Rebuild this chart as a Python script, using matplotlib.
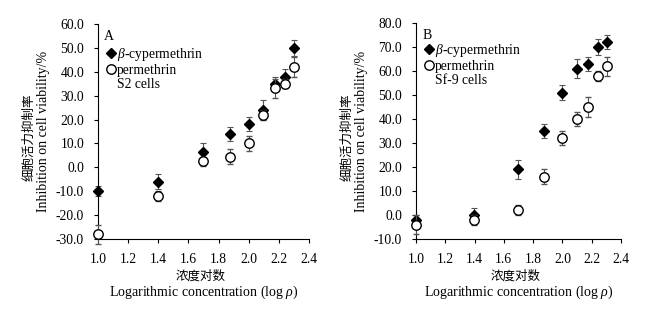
import matplotlib
matplotlib.use("Agg")
import matplotlib.pyplot as plt
import numpy as np

plt.rcParams['font.family'] = ['Liberation Serif', 'Noto Sans CJK SC', 'DejaVu Sans']
plt.rcParams['mathtext.fontset'] = 'custom'
plt.rcParams['mathtext.it'] = 'Liberation Serif:italic'
plt.rcParams['mathtext.rm'] = 'Liberation Serif'

# log10 of concentration
log_conc = [1.0, 1.398, 1.699, 1.875, 2.0, 2.097, 2.176, 2.243, 2.301]

# panel A, S2 cells
s2_beta = [-10, -6, 6.5, 14, 18, 24, 35, 38, 50]
s2_beta_err = [2, 3, 3.5, 3, 3, 4, 3, 3, 3.5]
s2_perm = [-28, -12, 2.5, 4.5, 10, 22, 33, 35, 42]
s2_perm_err = [4, 2, 2, 3, 3, 2, 4, 2, 4]

# panel B, Sf-9 cells
sf9_beta = [-2, 0, 19, 35, 51, 61, 63, 70, 72]
sf9_beta_err = [2, 3, 4, 3, 3, 4, 3, 3.5, 3]
sf9_perm = [-4, -2, 2, 16, 32, 40, 45, 58, 62]
sf9_perm_err = [4, 2, 2, 3, 3, 3, 4, 2, 4]

fig = plt.figure(figsize=(6.72, 3.09), dpi=100)
# axes boxes in figure fractions (pixels / 672, 309)
ax_a = fig.add_axes([98 / 672, (309 - 239) / 309, 211 / 672, 215 / 309])
ax_b = fig.add_axes([416 / 672, (309 - 239) / 309, 205 / 672, 216 / 309])

PX = 0.72  # points per pixel at 100 dpi


def draw_panel(ax, beta, beta_err, perm, perm_err, ylim, letter, cells, leg_y):
    ebar_kw = dict(ecolor='#555555', elinewidth=0.8, capsize=2.5, capthick=0.8, linestyle='none')
    hb = ax.errorbar(log_conc, beta, yerr=beta_err, marker='D', markersize=5.5,
                     color='black', zorder=3, clip_on=False, **ebar_kw)
    hp = ax.errorbar(log_conc, perm, yerr=perm_err, marker='o', markersize=6.8,
                     markerfacecolor='white', markeredgecolor='black',
                     markeredgewidth=1.0, zorder=4, clip_on=False, **ebar_kw)

    ax.set_xlim(1.0, 2.4)
    xt = np.arange(1.0, 2.41, 0.2)
    ax.set_xticks(xt)
    ax.set_xticklabels(['%.1f' % v for v in xt])
    ax.set_ylim(ylim)
    yt = np.arange(ylim[0], ylim[1] + 1, 10)
    ax.set_yticks(yt)
    ax.set_yticklabels(['%.1f' % v for v in yt])
    ax.spines['top'].set_visible(False)
    ax.spines['right'].set_visible(False)
    ax.tick_params(labelsize=9.8, length=3, width=0.8)
    ax.tick_params(axis='y', pad=7)
    ax.tick_params(axis='x', pad=7)
    for s in ax.spines.values():
        s.set_linewidth(0.8)

    # y label, Chinese line and English line
    ax.annotate('细胞活力抑制率', xy=(0, 0.5), xycoords='axes fraction',
                xytext=(-69 * PX, -6 * PX), textcoords='offset points',
                rotation=90, ha='center', va='center', fontsize=9)
    ax.annotate('Inhibition on cell viability/%', xy=(0, 0.5), xycoords='axes fraction',
                xytext=(-54 * PX, 0), textcoords='offset points',
                rotation=90, ha='center', va='center', fontsize=10)
    # x label, Chinese line and English line
    ax.annotate('浓度对数', xy=(0.5, 0), xycoords='axes fraction',
                xytext=(-3 * PX, -37 * PX), textcoords='offset points',
                ha='center', va='center', fontsize=9)
    ax.annotate('Logarithmic concentration (log $\\it{\\rho}$)', xy=(0.5, 0),
                xycoords='axes fraction', xytext=(0, -53 * PX),
                textcoords='offset points', ha='center', va='center', fontsize=10)

    blank, = ax.plot([], [], linestyle='none', marker='none')
    ax.legend([hb[0], hp[0], blank],
              ['$\\it{\\beta}$-cypermethrin', 'permethrin', cells],
              loc='upper left', bbox_to_anchor=(0.015, leg_y), frameon=False,
              fontsize=9.8, handlelength=0.5, handletextpad=0.15,
              labelspacing=0.08, borderaxespad=0.3, borderpad=0.2)
    ax.text(0.03, 0.97, letter, transform=ax.transAxes, fontsize=10, va='top')


draw_panel(ax_a, s2_beta, s2_beta_err, s2_perm, s2_perm_err, (-30, 60), 'A', 'S2 cells', 0.93)
draw_panel(ax_b, sf9_beta, sf9_beta_err, sf9_perm, sf9_perm_err, (-10, 80), 'B', 'Sf-9 cells', 0.945)

fig.savefig('out.png', dpi=100)
